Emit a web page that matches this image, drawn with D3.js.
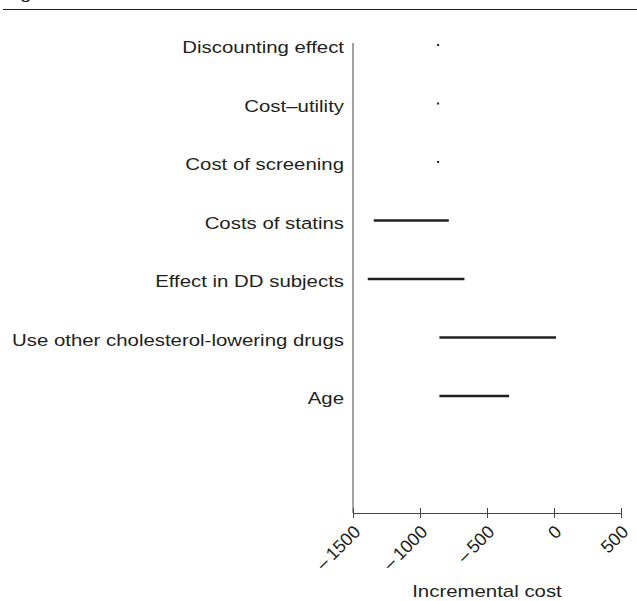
<!DOCTYPE html>
<html>
<head>
<meta charset="utf-8">
<script src="https://cdn.jsdelivr.net/npm/d3@7"></script>
<style>
	body { margin: 0; background: #fff; }
	text { font-family: "Liberation Sans", Arial, sans-serif; fill: #231f20; }
</style>
</head>
<body>
<svg id="chart" width="637" height="601"></svg>
<script>
const width = 637,
		height = 601;

// one-way sensitivity analysis, top to bottom
const categories = [
	"Discounting effect",
	"Cost\u2013utility",
	"Cost of screening",
	"Costs of statins",
	"Effect in DD subjects",
	"Use other cholesterol-lowering drugs",
	"Age"
];
const lows = [-865, -865, -865, -1345, -1390, -855, -855];
const highs = [-865, -865, -865, -785, -668, 15, -335];

const xTicks = [-1500, -1000, -500, 0, 500];

const xScale = d3.scaleLinear()
	.domain([-1500, 500])
	.range([353, 621]);

// 7 rows plus empty space, axis closes at slot 8
const yScale = d3.scaleLinear()
	.domain([0, 8])
	.range([45, 513]);

// source figure is stretched horizontally
const stretch = 1.2;

const chart = d3.select("#chart");

// cut-off figure header
chart.append("text")
	.attr("transform", "translate(3,-1) scale(1.2,1)")
	.attr("font-size", 17)
	.text("Fig. 3");

chart.append("line")
	.attr("x1", 3).attr("x2", 637)
	.attr("y1", 9.5).attr("y2", 9.5)
	.attr("stroke", "#231f20")
	.attr("stroke-width", 1);

// y axis line
chart.append("line")
	.attr("x1", xScale(-1500)).attr("x2", xScale(-1500))
	.attr("y1", yScale(0) - 2).attr("y2", yScale(8))
	.attr("stroke", "#444")
	.attr("stroke-width", 1);

const data = categories.map((c, i) => ({cat: c, i: i, lo: lows[i], hi: highs[i]}));

chart.selectAll("text.cat")
	.data(data)
	.join("text")
	.attr("class", "cat")
	.attr("transform", d => `translate(${xScale(-1500) - 9},${yScale(d.i) + 8}) scale(${stretch},1)`)
	.attr("text-anchor", "end")
	.attr("font-size", 17)
	.text(d => d.cat);

chart.selectAll("line.range")
	.data(data.filter(d => d.lo !== d.hi))
	.join("line")
	.attr("class", "range")
	.attr("x1", d => xScale(d.lo))
	.attr("x2", d => xScale(d.hi))
	.attr("y1", d => yScale(d.i))
	.attr("y2", d => yScale(d.i))
	.attr("stroke", "#231f20")
	.attr("stroke-width", 2.5);

chart.selectAll("rect.point")
	.data(data.filter(d => d.lo === d.hi))
	.join("rect")
	.attr("class", "point")
	.attr("x", d => xScale(d.lo) - 1)
	.attr("y", d => yScale(d.i) - 1)
	.attr("width", 2)
	.attr("height", 2)
	.attr("fill", "#231f20");

// x axis
const xAxis = chart.append("g")
	.attr("transform", `translate(0,${yScale(8)})`)
	.call(d3.axisBottom(xScale)
		.tickValues(xTicks)
		.tickSizeOuter(0)
		.tickFormat(d => d < 0 ? "\u2013\u2009" + Math.abs(d) : d));

xAxis.select(".domain").attr("stroke", "#444");
xAxis.selectAll(".tick line")
	.attr("stroke", "#444")
	.attr("y1", -5)
	.attr("y2", 5);
xAxis.selectAll(".tick text")
	.attr("font-size", 18)
	.attr("font-family", "Liberation Sans, Arial, sans-serif")
	.attr("text-anchor", "end")
	.attr("y", 0)
	.attr("dy", 0)
	.attr("fill", "#231f20")
	.attr("transform", "translate(8,20) rotate(-45)");

chart.append("text")
	.attr("transform", `translate(487,597) scale(${stretch},1)`)
	.attr("text-anchor", "middle")
	.attr("font-size", 17)
	.text("Incremental cost");
</script>
</body>
</html>
